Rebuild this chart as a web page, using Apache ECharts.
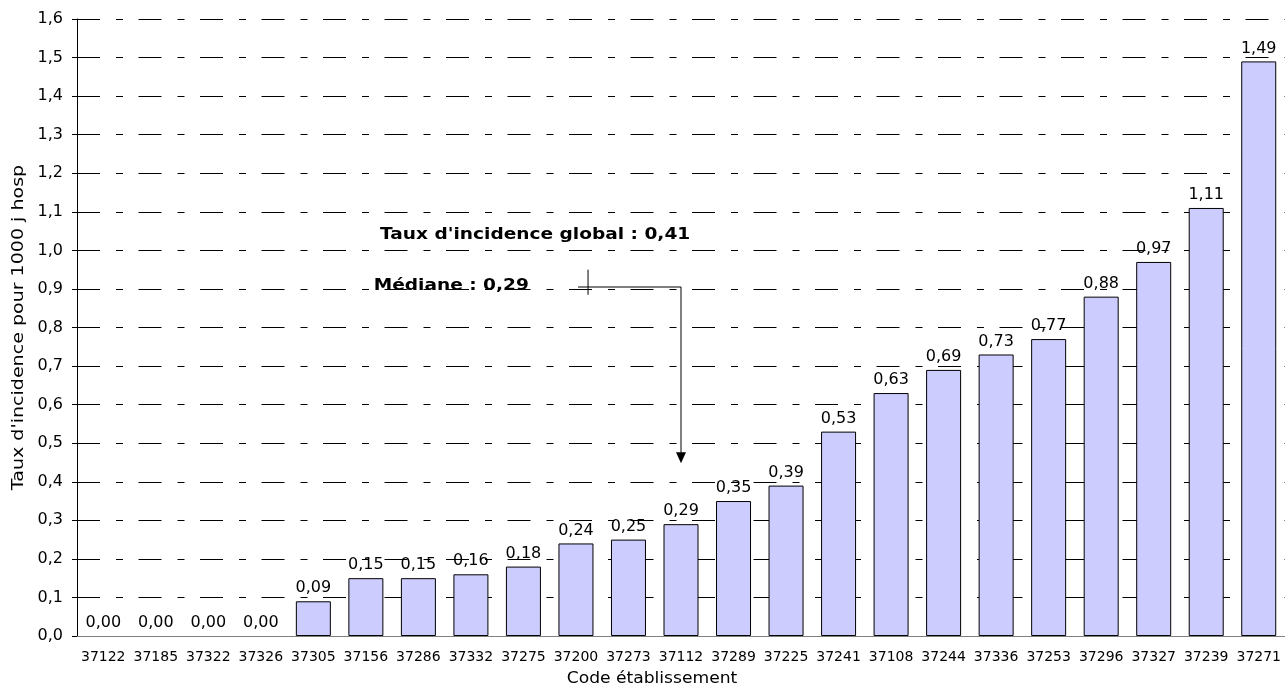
<!DOCTYPE html>
<html>
<head>
<meta charset="utf-8">
<script src="https://cdn.jsdelivr.net/npm/echarts@6/dist/echarts.min.js"></script>
<style>
  html, body { margin: 0; padding: 0; background: #fff; }
  #chart { width: 1285px; height: 688px; }
</style>
</head>
<body>
<div id="chart"></div>
<script>
// Établissements, triés par taux croissant
const codes = ['37122','37185','37322','37326','37305','37156','37286','37332','37275','37200',
               '37273','37112','37289','37225','37241','37108','37244','37336','37253','37296',
               '37327','37239','37271'];
// Taux d'incidence pour 1000 journées d'hospitalisation
const taux = [0.00, 0.00, 0.00, 0.00, 0.09, 0.15, 0.15, 0.16, 0.18, 0.24,
              0.25, 0.29, 0.35, 0.39, 0.53, 0.63, 0.69, 0.73, 0.77, 0.88,
              0.97, 1.11, 1.49];
const yTicks = { min: 0, max: 1.6, step: 0.1 };
const tauxGlobal = 0.41;
const mediane = 0.29;
const codeMediane = '37112';
const titreX = 'Code établissement';
const titreY = "Taux d'incidence pour 1000 j hosp";

const FONT = 'Verdana, "DejaVu Sans", sans-serif';
const fr = (v, d) => v.toFixed(d).replace('.', ',');

// Les barres nulles ne sont pas dessinées (pas de bordure)
const barData = taux.map(v => v === 0 ? { value: v, itemStyle: { borderWidth: 0 } } : v);

const chart = echarts.init(document.getElementById('chart'));

chart.setOption({
  animation: false,
  backgroundColor: '#fff',
  grid: { left: 77, right: 0, top: 19, bottom: 52, containLabel: false },
  xAxis: {
    type: 'category',
    data: codes,
    axisLine: { lineStyle: { color: '#808080', width: 1 } },
    axisTick: { show: false },
    axisLabel: { interval: 0, fontFamily: FONT, fontSize: 14, color: '#000', margin: 14 }
  },
  yAxis: {
    type: 'value',
    min: yTicks.min, max: yTicks.max, interval: yTicks.step,
    axisLine: { show: true, lineStyle: { color: '#000', width: 1 } },
    axisTick: { show: true, length: 5, lineStyle: { color: '#000' } },
    axisLabel: { fontFamily: FONT, fontSize: 16, color: '#000', margin: 14,
                 formatter: v => fr(v, 1) },
    splitLine: { show: true, lineStyle: { color: '#000', width: 1, type: [23, 16, 7, 15.5] } }
  },
  series: [{
    type: 'bar',
    data: barData,
    barWidth: 35,
    itemStyle: { color: '#CCCCFF', borderColor: '#000', borderWidth: 1 },
    label: {
      show: true, position: 'top', distance: 5,
      fontFamily: FONT, fontSize: 16, color: '#000',
      formatter: p => fr(p.value, 2)
    }
  }]
});

// Position en pixels d'un point exprimé en (indice de catégorie, valeur)
function px(idx, val) {
  const a = chart.convertToPixel({ xAxisIndex: 0, yAxisIndex: 0 }, [0, val]);
  const b = chart.convertToPixel({ xAxisIndex: 0, yAxisIndex: 0 }, [1, val]);
  return [a[0] + (b[0] - a[0]) * idx, a[1]];
}
const gridRect = { x: 77, y: 19, w: 1285 - 77, h: 688 - 19 - 52 };
const iMed = codes.indexOf(codeMediane);
const tGlobal = px(5.27, 1.04);
const tMed = px(5.15, 0.907);
const hStart = px(9.04, 0.905);
const cross = px(9.23, 0.905);
const corner = px(iMed, 0.905);
const tip = px(iMed, 0.448);
const crossTop = px(9.23, 0.95)[1];
const crossBot = px(9.23, 0.885)[1];

chart.setOption({
  graphic: [
    // titres des axes
    { type: 'text', x: 19, y: gridRect.y + gridRect.h / 2, rotation: Math.PI / 2, scaleX: 1.19,
      style: { text: titreY, font: '16px ' + FONT, fill: '#000', align: 'center', verticalAlign: 'middle' } },
    { type: 'text', x: 652, y: 679, scaleX: 1.07,
      style: { text: titreX, font: '16px ' + FONT, fill: '#000', align: 'center', verticalAlign: 'middle' } },
    // taux global et médiane
    { type: 'text', x: tGlobal[0], y: tGlobal[1], scaleX: 1.16,
      style: { text: "Taux d'incidence global : " + fr(tauxGlobal, 2), font: 'bold 16px ' + FONT,
               fill: '#000', align: 'left', verticalAlign: 'middle' } },
    { type: 'text', x: tMed[0], y: tMed[1], scaleX: 1.16,
      style: { text: 'Médiane : ' + fr(mediane, 2), font: 'bold 16px ' + FONT,
               fill: '#000', align: 'left', verticalAlign: 'middle' } },
    // flèche vers l'établissement médian
    { type: 'line', shape: { x1: cross[0], y1: crossTop, x2: cross[0], y2: crossBot },
      style: { stroke: '#000', lineWidth: 1 } },
    { type: 'polyline', shape: { points: [hStart, corner, [tip[0], tip[1] - 8]] },
      style: { stroke: '#000', lineWidth: 1, fill: null } },
    { type: 'polygon', shape: { points: [[tip[0] - 5, tip[1] - 11], [tip[0] + 5, tip[1] - 11], [tip[0], tip[1]]] },
      style: { fill: '#000' } }
  ]
});
</script>
</body>
</html>
